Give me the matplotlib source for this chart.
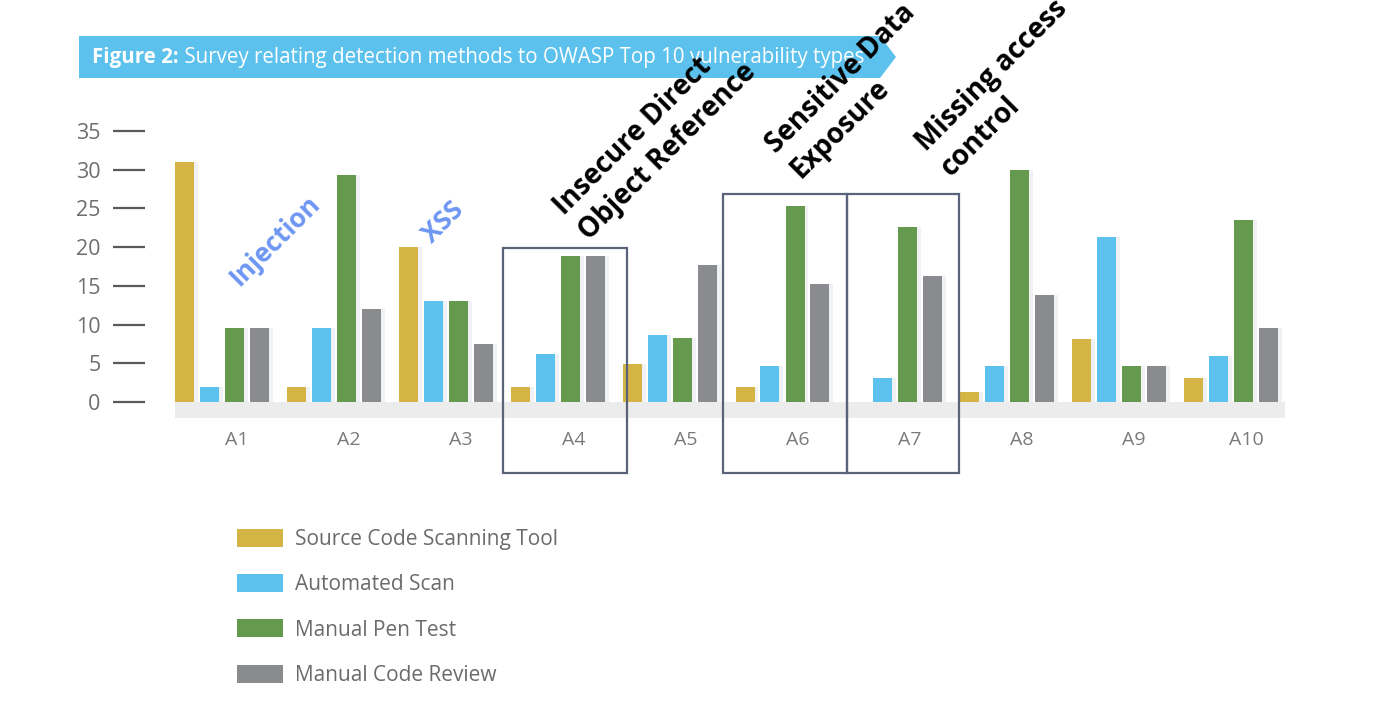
import matplotlib
matplotlib.use("Agg")
import matplotlib.pyplot as plt
from matplotlib.patches import Polygon, Rectangle, Patch
import numpy as np

categories = ["A1", "A2", "A3", "A4", "A5", "A6", "A7", "A8", "A9", "A10"]
series_names = ["Source Code Scanning Tool", "Automated Scan", "Manual Pen Test", "Manual Code Review"]
source_code_scan = [31, 2, 20, 2, 4.9, 2, 0, 1.3, 8.2, 3.1]
automated_scan = [2, 9.5, 13, 6.2, 8.7, 4.7, 3.1, 4.7, 21.3, 6.0]
manual_pen_test = [9.5, 29.3, 13, 18.8, 8.3, 25.3, 22.6, 30, 4.7, 23.5]
manual_code_review = [9.5, 12, 7.5, 18.8, 17.7, 15.2, 16.3, 13.8, 4.7, 9.5]
y_ticks = [0, 5, 10, 15, 20, 25, 30, 35]
title_bold = "Figure 2:"
title_rest = " Survey relating detection methods to OWASP Top 10 vulnerability types"

colors = ["#d4b445", "#5cc1ed", "#659a4e", "#8a8b8f"]
series = [source_code_scan, automated_scan, manual_pen_test, manual_code_review]

W, H = 1400, 726
fig = plt.figure(figsize=(W / 100, H / 100), dpi=100)
FONT = "Open Sans"

# axes placed in pixel terms
ax_l, ax_r, ax_b, ax_t = 175, 1285, 418, 120
ax = fig.add_axes([ax_l / W, 1 - ax_b / H, (ax_r - ax_l) / W, (ax_b - ax_t) / H])
ax.set_zorder(3)
ax.patch.set_alpha(0)
pitch = 112.1            # px per group
upx = 7.743              # px per y unit
x0 = 222                 # px of first group center
ax.set_xlim((ax_l - x0) / pitch, (ax_r - x0) / pitch)
ax.set_ylim(-(ax_b - 402) / upx, (402 - ax_t) / upx)

x = np.arange(len(categories))
bw = 19 / pitch
offsets = np.array([-37.5, -12.5, 12.5, 37.5]) / pitch
shadow = 4 / pitch

ax.axhspan(ax.get_ylim()[0], 0, color="#ececec", zorder=0, lw=0)
for vals, col, off in zip(series, colors, offsets):
    v = np.array(vals, dtype=float)
    ax.bar(x + off + shadow, v, width=bw, color="#f0f1f4", zorder=1, lw=0)
    ax.bar(x + off, v, width=bw, color=col, zorder=2, lw=0)

for s in ["top", "right", "bottom"]:
    ax.spines[s].set_visible(False)
ax.spines["left"].set_position(("outward", 30 * 0.72))
ax.spines["left"].set_color("none")
ax.set_yticks(y_ticks)
ax.set_yticklabels([str(t) for t in y_ticks], fontsize=15.5, color="#6e6e6e", family=FONT)
ax.tick_params(axis="y", length=32 * 0.72, width=1.6, color="#5a5a5a", pad=9)
ax.set_xticks(x + 15 / pitch)
ax.set_xticklabels(categories, fontsize=14, color="#7a7a7a", family=FONT)
ax.tick_params(axis="x", length=0, pad=9)

# highlight boxes
box_col = "#5b637a"
for (xa, xb, yt) in [(3 - 55.3 / pitch, 3 + 68.7 / pitch, 19.9),
                     (5 - 59.5 / pitch, 5 + 64.5 / pitch, 26.86),
                     (6 - 47.6 / pitch, 6 + 64.4 / pitch, 26.86)]:
    yb = -(473 - 402) / upx
    ax.add_patch(Rectangle((xa, yb), xb - xa, yt - yb, fill=False, ec=box_col, lw=1.6,
                           clip_on=False, zorder=5))

def px2d(px, py):
    return (px - x0) / pitch, (402 - py) / upx

# blue annotations
for txt, (px, py) in [("Injection", (275, 240)), ("XSS", (443, 222))]:
    xd, yd = px2d(px, py)
    ax.text(xd, yd, txt, rotation=45, ha="center", va="center", rotation_mode="anchor",
            color="#6d96f2", fontsize=19, fontweight="bold", family=FONT, clip_on=False)

# black annotations (anchor = baseline start of last line)
for txt, (px, py) in [("Insecure Direct\nObject Reference", (585, 237)),
                      ("Sensitive Data\nExposure", (797, 175)),
                      ("Missing access\ncontrol", (947, 173))]:
    xd, yd = px2d(px, py)
    ax.text(xd, yd, txt, rotation=45, ha="left", va="baseline", rotation_mode="anchor",
            multialignment="left", color="black", fontsize=20, fontweight="bold",
            family=FONT, clip_on=False, zorder=6, linespacing=1.25)

# title banner
banner = Polygon([(79 / W, 1 - 36 / H), (880 / W, 1 - 36 / H), (896 / W, 1 - 57 / H),
                  (880 / W, 1 - 78 / H), (79 / W, 1 - 78 / H)], closed=True,
                 transform=fig.transFigure, fc="#5cc1ed", ec="none", zorder=0)
fig.patches.append(banner)
t1 = fig.text(92 / W, 1 - 57 / H, title_bold, color="white", fontsize=14.8, fontweight="bold",
              family=FONT, va="center", ha="left", zorder=1)
fig.canvas.draw()
bb = t1.get_window_extent()
fig.text(bb.x1 / W, 1 - 57 / H, title_rest, color="white", fontsize=14.8,
         family=FONT, va="center", ha="left", zorder=1)

# legend
handles = [Patch(facecolor=c, edgecolor="none") for c in colors]
leg = fig.legend(handles, series_names, loc="upper left", bbox_to_anchor=(237 / W, 1 - 529 / H),
                 frameon=False, borderpad=0, borderaxespad=0, handlelength=46 / 20.8,
                 handleheight=20 / 20.8, handletextpad=0.55, labelspacing=1.15,
                 prop={"family": FONT, "size": 15})
for t in leg.get_texts():
    t.set_color("#6b6b6b")

fig.savefig("out.png", dpi=100)
